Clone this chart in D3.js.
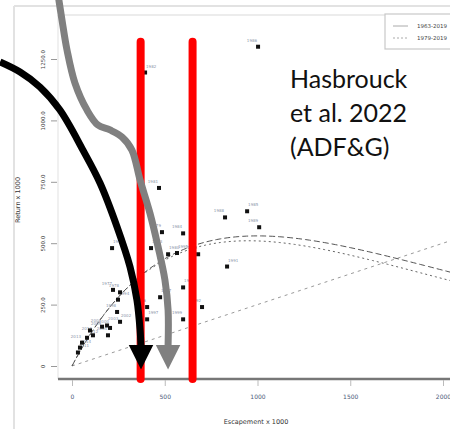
<!DOCTYPE html>
<html>
<head>
<meta charset="utf-8">
<script src="https://cdn.jsdelivr.net/npm/d3@7"></script>
<style>
  body { margin: 0; background: #fff; }
  svg { display: block; }
</style>
</head>
<body>
<svg id="chart" width="450" height="429"></svg>
<script>
// escapement / return (x 1000 units on the plot axes)
var escapement = [1003, 394, 469, 216, 485, 426, 599, 518, 825, 944, 1009, 836, 680, 599, 221,
                  475, 701, 566, 259, 248, 405, 405, 243, 259, 205, 97, 113, 81, 54, 43,
                  162, 189, 194, 32, 599];
var returns = [1300, 1195, 725, 480, 545, 480, 540, 455, 605, 630, 565, 405, 455, 320, 310,
               280, 240, 460, 300, 270, 240, 190, 220, 180, 155, 145, 125, 115, 95, 75,
               160, 165, 125, 55, 190];
var years = [1986, 1982, 1981, 1976, 1979, 1993, 1984, 1980, 1988, 1985, 1989, 1991, 1983, 1990, 1977,
             1987, 1992, 1995, 1978, 1994, 1996, 1997, 1998, 2002, 2000, 2009, 2010, 2012, 2013, 2014,
             2001, 2003, 2004, 2011, 1999];

var xTicks = [0, 500, 1000, 1500, 2000];
var xTickLabels = ["0", "500", "1000", "1500", "2000"];
var yTicks = [0, 250, 500, 750, 1000, 1250];
var yTickLabels = ["0", "250.0", "500.0", "750.0", "1000.0", "1250.0"];

// two fitted ricker curves (a, 1/b) and a straight reference line slope
var rickerUpper = [1.44, 1000];
var rickerLower = [1.459, 950];
var lineSlope = 0.25;

var legendNames = ["1963-2019", "1979-2019"];

// escapement goal range (red bars)
var goal = [370, 650];

// annotation arrows drawn in data units
var blackArrow = [[-388, 1238], [-280, 1197], [-173, 1136], [-65, 1042], [59, 879], [151, 745],
                  [243, 566], [313, 403], [350, 269], [367, 147], [372, 80]];
var grayArrow = [[-75, 1511], [-54, 1409], [-27, 1287], [16, 1152], [81, 1042], [140, 981],
                 [205, 961], [270, 932], [323, 879], [367, 757], [420, 623], [464, 485],
                 [501, 350], [518, 228], [518, 85]];

var svg = d3.select("#chart");

var x = d3.scaleLinear().domain([0, 2000]).range([72, 443]);
var y = d3.scaleLinear().domain([0, 1250]).range([366, 59]);
var axisY = 379;

// frame of the pasted figure
svg.append("line").attr("x1", 14).attr("x2", 14).attr("y1", 6).attr("y2", 429)
    .attr("stroke", "#e2e2e2").attr("stroke-width", 2);
svg.append("line").attr("x1", 14).attr("x2", 450).attr("y1", 6).attr("y2", 6)
    .attr("stroke", "#e2e2e2").attr("stroke-width", 2);

// plot box (left + top light)
svg.append("line").attr("x1", 58).attr("x2", 58).attr("y1", 15).attr("y2", axisY)
    .attr("stroke", "#ebebeb").attr("stroke-width", 1.5);
svg.append("line").attr("x1", 58).attr("x2", 450).attr("y1", 15).attr("y2", 15)
    .attr("stroke", "#e6e6e6").attr("stroke-width", 1.5);

// x axis
svg.append("line").attr("x1", 58).attr("x2", 450).attr("y1", axisY).attr("y2", axisY)
    .attr("stroke", "#777").attr("stroke-width", 2.5);
var xAxis = d3.axisBottom(x).tickValues(xTicks).tickSize(6).tickPadding(9)
    .tickFormat(function(d, i) { return xTickLabels[i]; });
var gx = svg.append("g").attr("transform", "translate(0," + (axisY + 1) + ")").call(xAxis);
gx.select(".domain").remove();
gx.selectAll(".tick line").attr("stroke", "#bbb");
gx.selectAll(".tick text").attr("font-family", "DejaVu Sans").attr("font-size", "6px")
    .attr("fill", "#4a5a78");

// y axis, rotated labels like base R
var yAxis = d3.axisLeft(y).tickValues(yTicks).tickSize(6).tickPadding(0)
    .tickFormat(function(d, i) { return yTickLabels[i]; });
var gy = svg.append("g").attr("transform", "translate(57,0)").call(yAxis);
gy.select(".domain").remove();
gy.selectAll(".tick line").attr("stroke", "#999");
gy.selectAll(".tick text").attr("font-family", "DejaVu Sans").attr("font-size", "5.5px")
    .attr("fill", "#444").attr("text-anchor", "middle")
    .attr("transform", "translate(-14,0) rotate(-90)").attr("dy", "0.35em").attr("x", 0);

svg.append("text").attr("x", 256).attr("y", 424).attr("text-anchor", "middle")
    .attr("font-family", "DejaVu Sans").attr("font-size", "6.5px").attr("fill", "#333")
    .text("Escapement x 1000");
svg.append("text").attr("transform", "translate(20,200) rotate(-90)").attr("text-anchor", "middle")
    .attr("font-family", "DejaVu Sans").attr("font-size", "6.5px").attr("fill", "#333")
    .text("Return x 1000");

// curves
var sGrid = d3.range(0, 2101, 20);
function ricker(p) {
    return sGrid.map(function(s) { return [s, p[0] * s * Math.exp(-s / p[1])]; });
}
var line = d3.line().x(function(d) { return x(d[0]); }).y(function(d) { return y(d[1]); });

svg.append("clipPath").attr("id", "plotclip").append("rect")
    .attr("x", 58).attr("y", 15).attr("width", 392).attr("height", axisY - 15);
var plot = svg.append("g").attr("clip-path", "url(#plotclip)");

plot.append("path").attr("d", line([[0, 0], [2100, 2100 * lineSlope]]))
    .attr("fill", "none").attr("stroke", "#999").attr("stroke-width", 1)
    .attr("stroke-dasharray", "3,4");
plot.append("path").attr("d", line(ricker(rickerLower)))
    .attr("fill", "none").attr("stroke", "#666").attr("stroke-width", 1)
    .attr("stroke-dasharray", "2,3");
plot.append("path").attr("d", line(ricker(rickerUpper)))
    .attr("fill", "none").attr("stroke", "#555").attr("stroke-width", 1)
    .attr("stroke-dasharray", "6,3");

// points with year labels (tiny, alternately nudged left / right)
var pts = escapement.map(function(s, i) { return { s: s, r: returns[i], yr: years[i], i: i }; });
plot.selectAll(".yr").data(pts).enter().append("text")
    .attr("x", function(d) { return x(d.s) + (d.i % 2 ? 1 : -1); })
    .attr("y", function(d) { return y(d.r) - 5; })
    .attr("text-anchor", function(d) { return d.i % 2 ? "start" : "end"; })
    .attr("font-family", "DejaVu Sans").attr("font-size", "4px").attr("fill", "#8a94a8")
    .text(function(d) { return d.yr; });
plot.selectAll(".pt").data(pts).enter().append("rect")
    .attr("x", function(d) { return x(d.s) - 2; })
    .attr("y", function(d) { return y(d.r) - 2; })
    .attr("width", 4).attr("height", 4).attr("fill", "#111");

// legend
var lg = svg.append("g");
lg.append("rect").attr("x", 385).attr("y", 14).attr("width", 80).attr("height", 35)
    .attr("fill", "#fff").attr("stroke", "#c8c8c8").attr("stroke-width", 1.2);
legendNames.forEach(function(n, i) {
    lg.append("line").attr("x1", 393).attr("x2", 408).attr("y1", 26 + i * 12).attr("y2", 26 + i * 12)
        .attr("stroke", "#aaa").attr("stroke-width", 1)
        .attr("stroke-dasharray", i == 0 ? null : "2,2");
    lg.append("text").attr("x", 417).attr("y", 28 + i * 12)
        .attr("font-family", "DejaVu Sans").attr("font-size", "5.5px").attr("fill", "#444")
        .text(n);
});

// escapement goal bars
svg.selectAll(".goal").data(goal).enter().append("line")
    .attr("x1", function(d) { return x(d); }).attr("x2", function(d) { return x(d); })
    .attr("y1", y(1320)).attr("y2", axisY)
    .attr("stroke", "#ff0000").attr("stroke-width", 8).attr("stroke-linecap", "round");

// arrows
var curvy = d3.line().x(function(d) { return x(d[0]); }).y(function(d) { return y(d[1]); })
    .curve(d3.curveCatmullRom);
function arrow(pts, col) {
    svg.append("path").attr("d", curvy(pts)).attr("fill", "none")
        .attr("stroke", col).attr("stroke-width", 7);
    var tip = pts[pts.length - 1];
    var head = [[tip[0] - 66, 86], [tip[0] + 66, 86], [tip[0], -14]];
    svg.append("path").attr("d", line(head) + "Z").attr("fill", col);
}
arrow(grayArrow, "#808080");
arrow(blackArrow, "#000");

// citation
var cite = svg.append("text").attr("font-family", "Lato").attr("font-size", "25px").attr("fill", "#111");
["Hasbrouck", "et al. 2022", "(ADF&G)"].forEach(function(t, i) {
    cite.append("tspan").attr("x", 290).attr("y", 88 + i * 34).text(t);
});
</script>
</body>
</html>
